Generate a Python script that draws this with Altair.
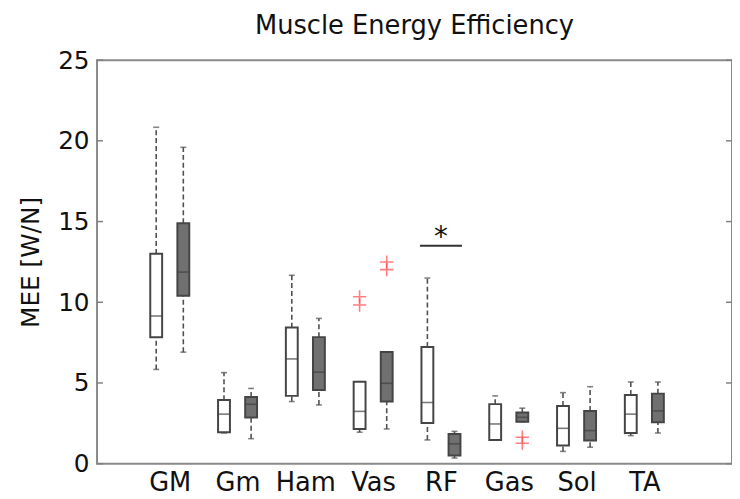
import altair as alt
import pandas as pd

# ---- data ----
muscles = ["GM", "Gm", "Ham", "Vas", "RF", "Gas", "Sol", "TA"]
# white (first) boxes
w_low = [5.84, 1.90, 3.85, 1.95, 1.47, 1.47, 0.76, 1.74]
w_q1 = [7.83, 1.94, 4.20, 2.15, 2.52, 1.47, 1.12, 1.90]
w_med = [9.15, 3.07, 6.49, 3.24, 3.79, 2.46, 2.19, 3.07]
w_q3 = [13.0, 3.94, 8.43, 5.08, 7.23, 3.69, 3.58, 4.26]
w_high = [20.84, 5.64, 11.67, 5.08, 11.5, 4.20, 4.40, 5.06]
# dark (second) boxes
d_low = [6.91, 1.55, 3.64, 2.15, 0.35, 2.60, 1.02, 1.90]
d_q1 = [10.4, 2.86, 4.56, 3.85, 0.51, 2.60, 1.43, 2.56]
d_med = [11.87, 3.68, 5.67, 4.98, 1.23, 2.87, 2.05, 3.27]
d_q3 = [14.9, 4.13, 7.84, 6.92, 1.84, 3.17, 3.27, 4.34]
d_high = [19.6, 4.66, 9.0, 6.92, 2.0, 3.44, 4.77, 5.06]
# outliers: (muscle, group, value)
out_muscle = ["Vas", "Vas", "Vas", "Vas", "Gas", "Gas"]
out_group = ["w", "w", "d", "d", "d", "d"]
out_value = [10.34, 9.83, 12.49, 12.02, 1.64, 1.27]
# significance marker over RF
sig_muscle = "RF"
sig_y = 13.5
y_ticks = [0, 5, 10, 15, 20, 25]

offset = {"w": -0.2, "d": 0.2}
fills = {"w": "#ffffff", "d": "#707070"}

rows = []
for i, m in enumerate(muscles):
    for g, lo, q1, md, q3, hi in [
        ("w", w_low[i], w_q1[i], w_med[i], w_q3[i], w_high[i]),
        ("d", d_low[i], d_q1[i], d_med[i], d_q3[i], d_high[i]),
    ]:
        rows.append(dict(muscle=m, group=g, pos=i + 1 + offset[g], low=lo, q1=q1,
                         med=md, q3=q3, high=hi, fill=fills[g]))
df = pd.DataFrame(rows)

out_df = pd.DataFrame({
    "pos": [muscles.index(m) + 1 + offset[g] for m, g in zip(out_muscle, out_group)],
    "value": out_value,
})
ci = muscles.index(sig_muscle) + 1
sig_df = pd.DataFrame({"x": [ci - 0.31], "x2": [ci + 0.31], "y": [sig_y], "xc": [ci], "ys": [sig_y + 0.45]})
tick_df = pd.DataFrame({"v": y_ticks})

W, H = 642, 408
FONT = "DejaVu Sans"
xs = alt.Scale(domain=[0, 9.22], nice=False, zero=False)
ys = alt.Scale(domain=[0, 25], nice=False)

label_expr = "[" + ",".join(f"'{m}'" for m in muscles) + "][datum.value - 1]"

base = alt.Chart(df)
X = alt.X("pos:Q", scale=xs,
          axis=alt.Axis(values=list(range(1, len(muscles) + 1)), labelExpr=label_expr,
                        ticks=False, domain=False, grid=False, title=None,
                        labelFontSize=26, labelFont=FONT, labelColor="#111",
                        labelPadding=6))
Yax = alt.Axis(values=y_ticks, ticks=False, domain=False, grid=False,
               labelFontSize=25, labelFont=FONT, labelColor="#111", labelPadding=8,
               title="MEE [W/N]", titleFontSize=25, titleFont=FONT,
               titleFontWeight="normal", titleColor="#111", titlePadding=14)

whisk_lo = base.mark_rule(color="#505050", strokeWidth=1.6, strokeDash=[5, 3]).encode(
    x=X, y=alt.Y("low:Q", scale=ys, axis=Yax), y2="q1:Q")
whisk_hi = base.mark_rule(color="#505050", strokeWidth=1.6, strokeDash=[5, 3]).encode(
    x="pos:Q", y="q3:Q", y2="high:Q")
cap_lo = base.mark_tick(orient="horizontal", size=6, thickness=1.6, color="#505050").encode(
    x="pos:Q", y="low:Q")
cap_hi = base.mark_tick(orient="horizontal", size=6, thickness=1.6, color="#505050").encode(
    x="pos:Q", y="high:Q")
boxes = base.mark_bar(size=12, stroke="#454545", strokeWidth=2).encode(
    x="pos:Q", y="q1:Q", y2="q3:Q",
    fill=alt.Fill("fill:N", scale=None))
medians = base.mark_tick(orient="horizontal", size=12, thickness=1.6, color="#404040").encode(
    x="pos:Q", y="med:Q")
outliers = alt.Chart(out_df).mark_point(
    shape="M-1,0L1,0M0,-1L0,1", size=180, filled=False, color="#ff4a4a", strokeWidth=1.6
).encode(x="pos:Q", y="value:Q")
sig_line = alt.Chart(sig_df).mark_rule(color="#333", strokeWidth=2).encode(
    x="x:Q", x2="x2:Q", y="y:Q")
sig_star = alt.Chart(sig_df).mark_text(text="*", fontSize=28, font=FONT, color="#111",
                                        baseline="middle").encode(x="xc:Q", y="ys:Q")
ticks_l = alt.Chart(tick_df).mark_rule(color="#808080", strokeWidth=1.5).encode(
    y="v:Q", x=alt.value(0), x2=alt.value(6))
ticks_r = alt.Chart(tick_df).mark_rule(color="#808080", strokeWidth=1.5).encode(
    y="v:Q", x=alt.value(W - 6), x2=alt.value(W))

chart = alt.layer(
    whisk_lo, whisk_hi, cap_lo, cap_hi, boxes, medians, outliers, sig_line, sig_star,
    ticks_l, ticks_r
).properties(
    width=W, height=H,
    title=alt.Title("Muscle Energy Efficiency", fontSize=26, font=FONT,
                    fontWeight="normal", color="#111", offset=9, anchor="middle"),
    autosize=alt.AutoSizeParams(type="none"),
    padding={"left": 90, "top": 50, "right": 0, "bottom": 33},
).configure_view(stroke="#8a8a8a", strokeWidth=2)

chart.save("out.html", embed_options={"renderer": "svg", "actions": False})
